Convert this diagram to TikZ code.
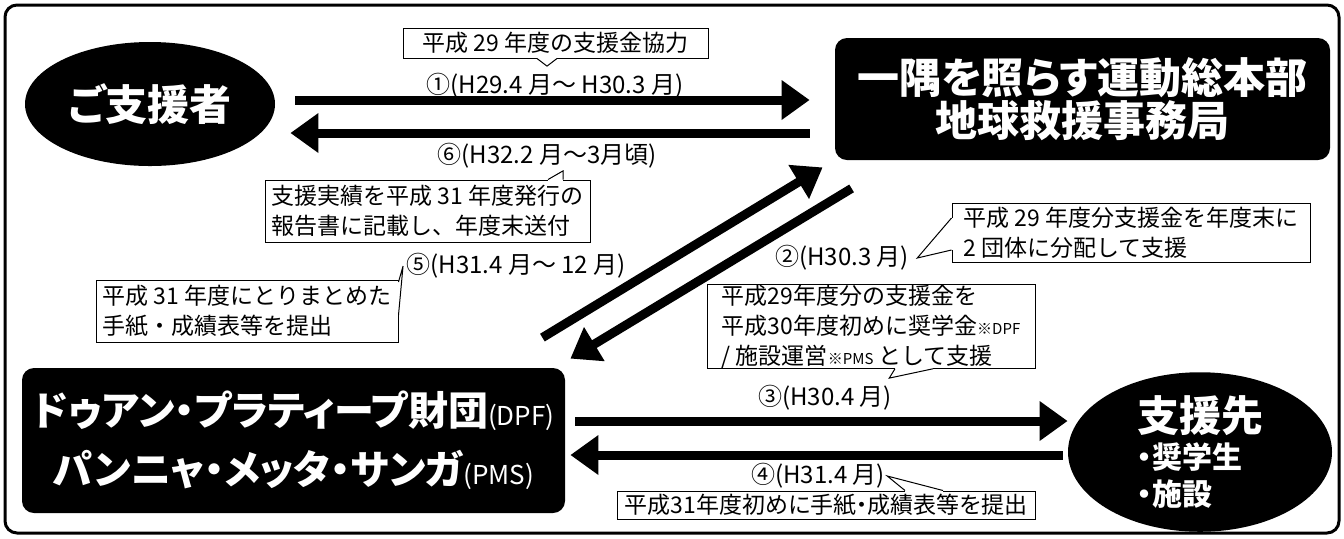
\documentclass[tikz,border=0pt]{standalone}
\usepackage{fontspec}
\setmainfont{Noto Sans CJK JP}
\newfontfamily\heavy[RawFeature=+palt]{Noto Sans CJK JP}
\usetikzlibrary{positioning}
\usetikzlibrary{arrows.meta}
\usetikzlibrary{shapes.geometric}
\tikzset{every node/.style={align=center, inner sep=0pt},
         darkbox/.style={  % black boxes of the two offices
           fill=black, text=white, rounded corners=6pt,
           font=\heavy\bfseries\fontsize{21}{21.5}\selectfont},
         darkoval/.style={ % black ovals
           ellipse, fill=black, text=white,
           font=\heavy\bfseries\fontsize{21}{21.5}\selectfont},
         fatarrow/.style={ % heavy flow arrows
           line width=4.5pt, -{Triangle[length=14pt,width=19pt]}},
         datelabel/.style={font=\fontsize{12}{14}\selectfont},
         memo/.style={     % white note boxes
           draw, fill=white, line width=0.5pt, align=left,
           font=\fontsize{11.5}{15}\selectfont}}
% pointer of a note box: base a, base b, tip
\newcommand{\memotail}[3]{%
  \fill[white] #1 -- #3 -- #2 -- cycle;
  \draw[white, line width=1pt] #1 -- #2;
  \draw[line width=0.5pt] #1 -- #3 -- #2;}
\begin{document}
\begin{tikzpicture}[x=0.5pt, y=-0.5pt]
  \useasboundingbox (0,0) rectangle (1344,538);
  \draw [line width=1.5pt, rounded corners=6pt] (5,5) rectangle (1339,533);

  \node [darkoval, minimum width=125pt, minimum height=62pt] (donor) at (150,104) {ご支援者};
  \node [darkbox, minimum width=247.5pt, minimum height=61pt] (honbu) at (1082.5,99) {一隅を照らす運動総本部\\地球救援事務局};
  \node [darkbox, minimum width=271.5pt, minimum height=72.5pt,
         font=\heavy\bfseries\fontsize{20}{29.5}\selectfont] (zaidan) at (293.5,440.5)
        {ドゥアン・プラティープ財団{\mdseries\fontsize{13}{13}\selectfont(DPF)}\\
         パンニャ・メッタ・サンガ{\mdseries\fontsize{13}{13}\selectfont(PMS)}};
  \node [darkoval, minimum width=132pt, minimum height=69pt, align=left,
         font=\heavy\bfseries\fontsize{15}{18.5}\selectfont] (saki) at (1200,452)
        {{\fontsize{21}{18.5}\selectfont 支援先}\\・奨学生\\・施設};

  % flows
  \draw [fatarrow, shorten <=10pt, shorten >=12.5pt] ([yshift=2pt]donor.east) -- ([yshift=-0.5pt]honbu.west);
  \draw [fatarrow, shorten <=12.5pt, shorten >=7.5pt] ([yshift=-17pt]honbu.west) -- ([yshift=-14.5pt]donor.east);
  \draw [fatarrow] ([xshift=-11.5pt,yshift=15pt]zaidan.north east) -- ([xshift=-6pt,yshift=-3.5pt]honbu.south west);
  \draw [fatarrow] ([xshift=8.5pt,yshift=-14pt]honbu.south west) -- ([xshift=2.5pt,yshift=4.5pt]zaidan.north east);
  \draw [fatarrow, shorten <=5pt] ([yshift=9.75pt]zaidan.east) -- ([yshift=15.5pt]saki.west);
  \draw [fatarrow, shorten <=2.5pt, shorten >=2.5pt] ([yshift=-1.5pt]saki.west) -- ([yshift=-7.25pt]zaidan.east);

  \node [datelabel] (lab1) at (555,86) {①(H29.4 月～ H30.3 月)};
  \node [datelabel] (lab6) at (547,156) {⑥(H32.2 月～3月頃)};
  \node [datelabel] (lab2) at (842,258) {②(H30.3 月)};
  \node [datelabel] (lab5) at (516,266) {⑤(H31.4 月～ 12 月)};
  \node [datelabel] (lab3) at (825,398) {③(H30.4 月)};
  \node [datelabel] (lab4) at (818,476) {④(H31.4 月)};

  % notes
  \node [memo, minimum width=152.5pt, minimum height=15pt] (note1) at (555.5,43) {平成 29 年度の支援金協力};
  \memotail{([xshift=-9.25pt]note1.south)}{([xshift=0.75pt]note1.south)}{([xshift=-4pt,yshift=3.5pt]lab1.north)}

  \node [memo, minimum width=162.5pt, minimum height=31pt] (note6) at (427.5,211) {支援実績を平成 31 年度発行の\\報告書に記載し、年度末送付};
  \memotail{([xshift=60.25pt]note6.north)}{([xshift=67.75pt]note6.north)}{([xshift=8pt,yshift=-1pt]lab6.south)}

  \node [memo, minimum width=179pt, minimum height=29.5pt] (note2) at (1131,232.5) {平成 29 年度分支援金を年度末に\\2 団体に分配して支援};
  \memotail{([yshift=7.25pt]note2.west)}{([yshift=-8.75pt]note2.west)}{([xshift=4pt]lab2.east)}

  \node [memo, minimum width=151pt, minimum height=31pt] (note5) at (247,311) {平成 31 年度にとりまとめた\\手紙・成績表等を提出};
  \memotail{([yshift=14.5pt]note5.east)}{([yshift=-2pt]note5.east)}{([xshift=-1.5pt]lab5.west)}

  \node [memo, minimum width=164pt, minimum height=41.5pt] (note3) at (871,326.5)
        {平成29年度分の支援金を\\平成30年度初めに奨学金{\fontsize{7.5}{8}\selectfont※DPF}\\/ 施設運営{\fontsize{7.5}{8}\selectfont※PMS} として支援};
  \memotail{([xshift=12pt]note3.south)}{([xshift=31pt]note3.south)}{([xshift=-1.5pt,yshift=3.5pt]lab3.north east)}

  \node [memo, minimum width=209pt, minimum height=14pt, font=\heavy\fontsize{11.5}{15}\selectfont] (note4) at (826,505) {平成31年度初めに手紙・成績表等を提出};
  \memotail{([xshift=39.5pt]note4.north)}{([xshift=58.5pt]note4.north)}{([xshift=1pt]lab4.east)}
\end{tikzpicture}
\end{document}
